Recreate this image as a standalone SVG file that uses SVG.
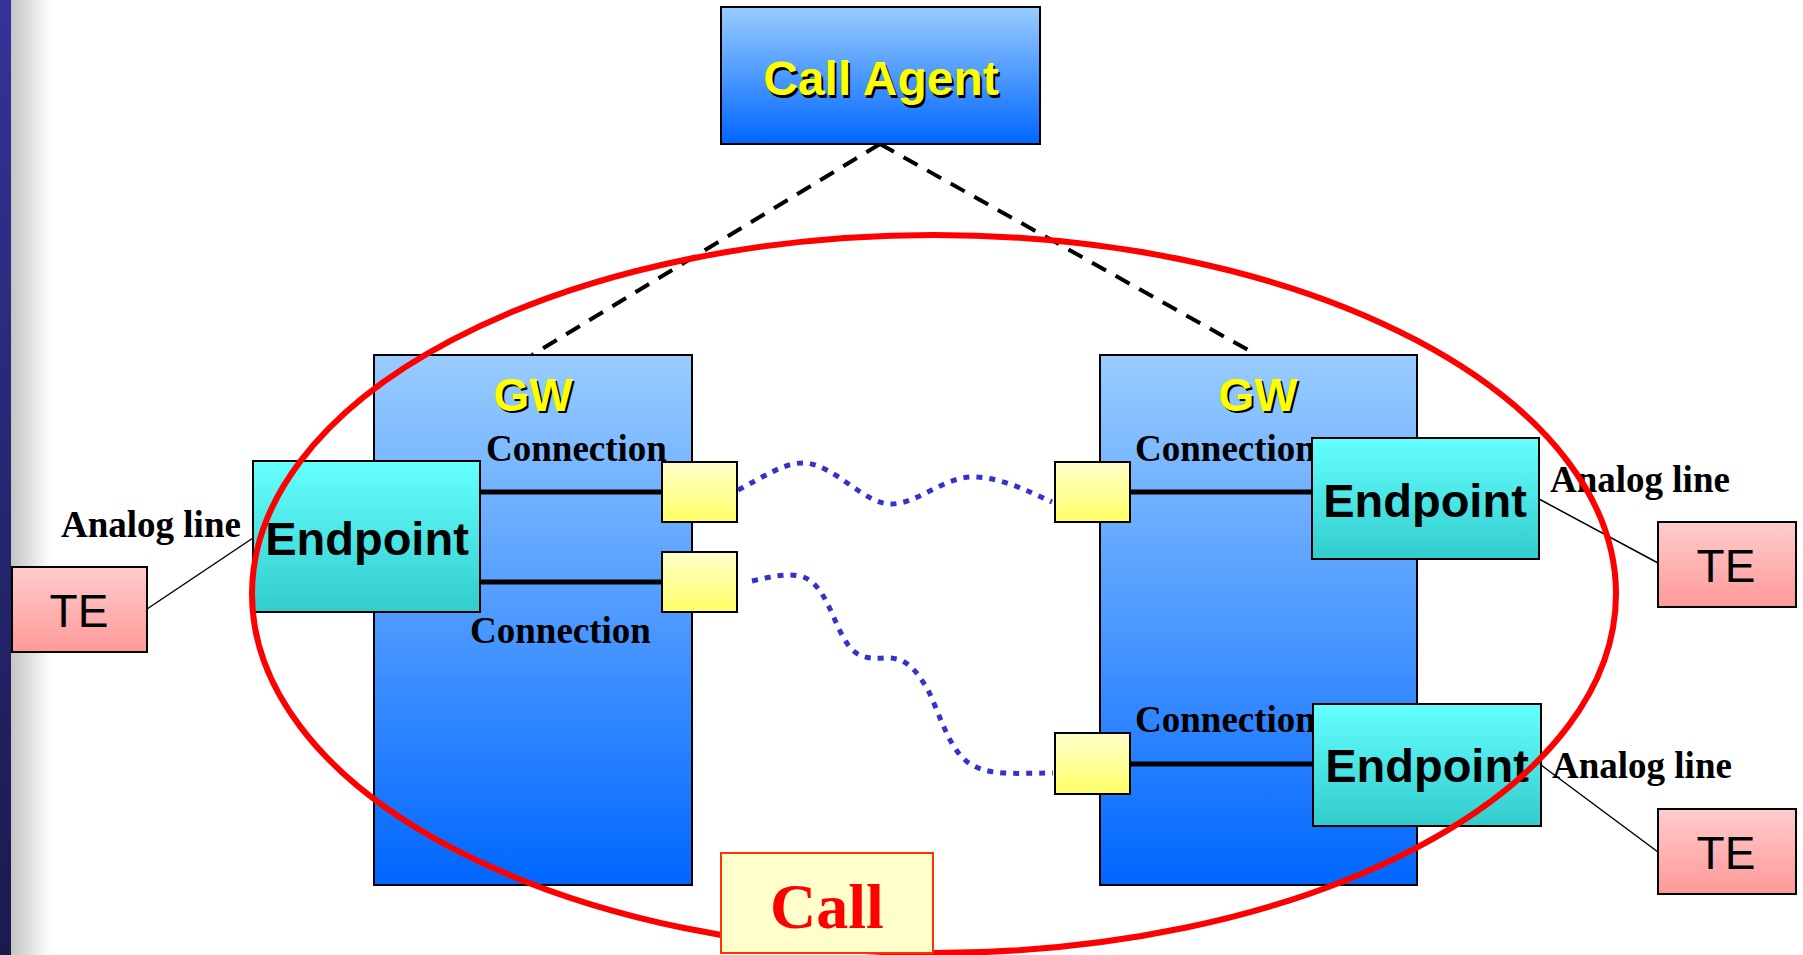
<svg xmlns="http://www.w3.org/2000/svg" width="1803" height="955" viewBox="0 0 1803 955">
<defs>
<linearGradient id="gBlue" x1="0" y1="0" x2="0" y2="1"><stop offset="0" stop-color="#99ccff"/><stop offset="1" stop-color="#0066ff"/></linearGradient>
<linearGradient id="gTeal" x1="0" y1="0" x2="0" y2="1"><stop offset="0" stop-color="#66ffff"/><stop offset="1" stop-color="#33cccc"/></linearGradient>
<linearGradient id="gYel" x1="0" y1="0" x2="0" y2="1"><stop offset="0" stop-color="#ffffcc"/><stop offset="1" stop-color="#ffff66"/></linearGradient>
<linearGradient id="gPink" x1="0" y1="0" x2="0" y2="1"><stop offset="0" stop-color="#ffcccc"/><stop offset="1" stop-color="#ff9999"/></linearGradient>
<linearGradient id="gSide" x1="0" y1="0" x2="0" y2="1"><stop offset="0" stop-color="#333399"/><stop offset="1" stop-color="#1a1a4d"/></linearGradient>
<linearGradient id="gFade" x1="0" y1="0" x2="1" y2="0"><stop offset="0" stop-color="#c4c4c4"/><stop offset="1" stop-color="#ffffff"/></linearGradient>
</defs>
<style>
.box{stroke:#000;stroke-width:2}
.ylab{font-family:"Liberation Sans",Arial,sans-serif;font-weight:bold;fill:#ffff00;text-anchor:middle}
.shadow{font-family:"Liberation Sans",Arial,sans-serif;font-weight:bold;fill:#000;text-anchor:middle}
.ep{font-family:"Liberation Sans",Arial,sans-serif;font-weight:bold;font-size:47px;fill:#000;text-anchor:middle}
.te{font-family:"Liberation Sans",Arial,sans-serif;font-size:46px;fill:#000;text-anchor:middle}
.ser{font-family:"Liberation Serif","Times New Roman",serif;font-weight:bold;font-size:37px;fill:#000}
.dash{stroke:#000;stroke-width:4;stroke-dasharray:16 11;fill:none}
.dot{stroke:#3333cc;stroke-width:5;stroke-dasharray:6 7;fill:none}
.conn{stroke:#000;stroke-width:5}
.thin{stroke:#000;stroke-width:1.5}
</style>
<rect width="1803" height="955" fill="#fff"/>
<g id="sidebar">
<rect x="11" y="0" width="40" height="955" fill="url(#gFade)"/>
<rect x="0" y="0" width="11" height="955" fill="url(#gSide)"/>
</g>
<g id="connectors">
<line class="dash" x1="880" y1="144" x2="532" y2="355"/>
<line class="dash" x1="880" y1="144" x2="1257" y2="355"/>
</g>
<g id="call-agent">
<rect class="box" x="721" y="7" width="319" height="137" fill="url(#gBlue)"/>
<text class="shadow" x="883" y="98" font-size="48">Call Agent</text>
<text class="ylab" x="881" y="95" font-size="48">Call Agent</text>
</g>
<g id="gw-left">
<rect class="box" x="374" y="355" width="318" height="530" fill="url(#gBlue)"/>
<text class="shadow" x="535" y="413" font-size="46">GW</text>
<text class="ylab" x="533" y="411" font-size="46">GW</text>
</g>
<g id="gw-right">
<rect class="box" x="1100" y="355" width="317" height="530" fill="url(#gBlue)"/>
<text class="shadow" x="1260" y="413" font-size="46">GW</text>
<text class="ylab" x="1258" y="411" font-size="46">GW</text>
</g>
<g id="conn-lines">
<line class="conn" x1="480" y1="492" x2="662" y2="492"/>
<line class="conn" x1="480" y1="582" x2="662" y2="582"/>
<line class="conn" x1="1130" y1="492" x2="1312" y2="492"/>
<line class="conn" x1="1130" y1="764" x2="1313" y2="764"/>
<line class="thin" x1="147" y1="609" x2="253" y2="538"/>
<line class="thin" x1="1539" y1="499" x2="1658" y2="563"/>
<line class="thin" x1="1541" y1="765" x2="1658" y2="852"/>
</g>
<g id="labels">
<text class="ser" x="486" y="461">Connection</text>
<text class="ser" x="470" y="643">Connection</text>
<text class="ser" x="1135" y="461">Connection</text>
<text class="ser" x="1135" y="732">Connection</text>
<text class="ser" x="61" y="537">Analog line</text>
<text class="ser" x="1550" y="492">Analog line</text>
<text class="ser" x="1552" y="778">Analog line</text>
</g>
<g id="endpoint-left">
<rect class="box" x="253" y="461" width="227" height="151" fill="url(#gTeal)"/>
<text class="ep" x="367" y="555">Endpoint</text>
</g>
<g id="endpoint-right-top">
<rect class="box" x="1312" y="438" width="227" height="121" fill="url(#gTeal)"/>
<text class="ep" x="1425" y="517">Endpoint</text>
</g>
<g id="endpoint-right-bottom">
<rect class="box" x="1313" y="704" width="228" height="122" fill="url(#gTeal)"/>
<text class="ep" x="1427" y="782">Endpoint</text>
</g>
<g id="conn-left-1"><rect class="box" x="662" y="462" width="75" height="60" fill="url(#gYel)"/></g>
<g id="conn-left-2"><rect class="box" x="662" y="552" width="75" height="60" fill="url(#gYel)"/></g>
<g id="conn-right-1"><rect class="box" x="1055" y="462" width="75" height="60" fill="url(#gYel)"/></g>
<g id="conn-right-2"><rect class="box" x="1055" y="733" width="75" height="61" fill="url(#gYel)"/></g>
<g id="te-left">
<rect class="box" x="12" y="567" width="135" height="85" fill="url(#gPink)"/>
<text class="te" x="79" y="627">TE</text>
</g>
<g id="te-right-top">
<rect class="box" x="1658" y="522" width="138" height="85" fill="url(#gPink)"/>
<text class="te" x="1726" y="582">TE</text>
</g>
<g id="te-right-bottom">
<rect class="box" x="1658" y="809" width="138" height="85" fill="url(#gPink)"/>
<text class="te" x="1726" y="869">TE</text>
</g>
<g id="media-links">
<path class="dot" d="M738,490 C765,476 785,462 805,463 C835,465 865,505 892,504 C920,503 945,475 977,477 C1005,479 1030,492 1052,502"/>
<path class="dot" d="M752,581 C770,577 785,573 800,576 C825,582 832,620 845,640 C855,658 868,659 885,658 C905,657 915,668 928,690 C940,715 948,745 965,760 C985,777 1015,773 1053,773"/>
</g>
<g id="call-ellipse">
<ellipse cx="934" cy="594" rx="682" ry="359" fill="none" stroke="#ff0000" stroke-width="6"/>
</g>
<g id="call-label">
<rect x="721" y="853" width="212" height="100" fill="#ffffcc" stroke="#ff3300" stroke-width="2"/>
<text x="827" y="928" font-family="'Liberation Serif','Times New Roman',serif" font-weight="bold" font-size="64" fill="#ff0000" text-anchor="middle">Call</text>
</g>
</svg>
